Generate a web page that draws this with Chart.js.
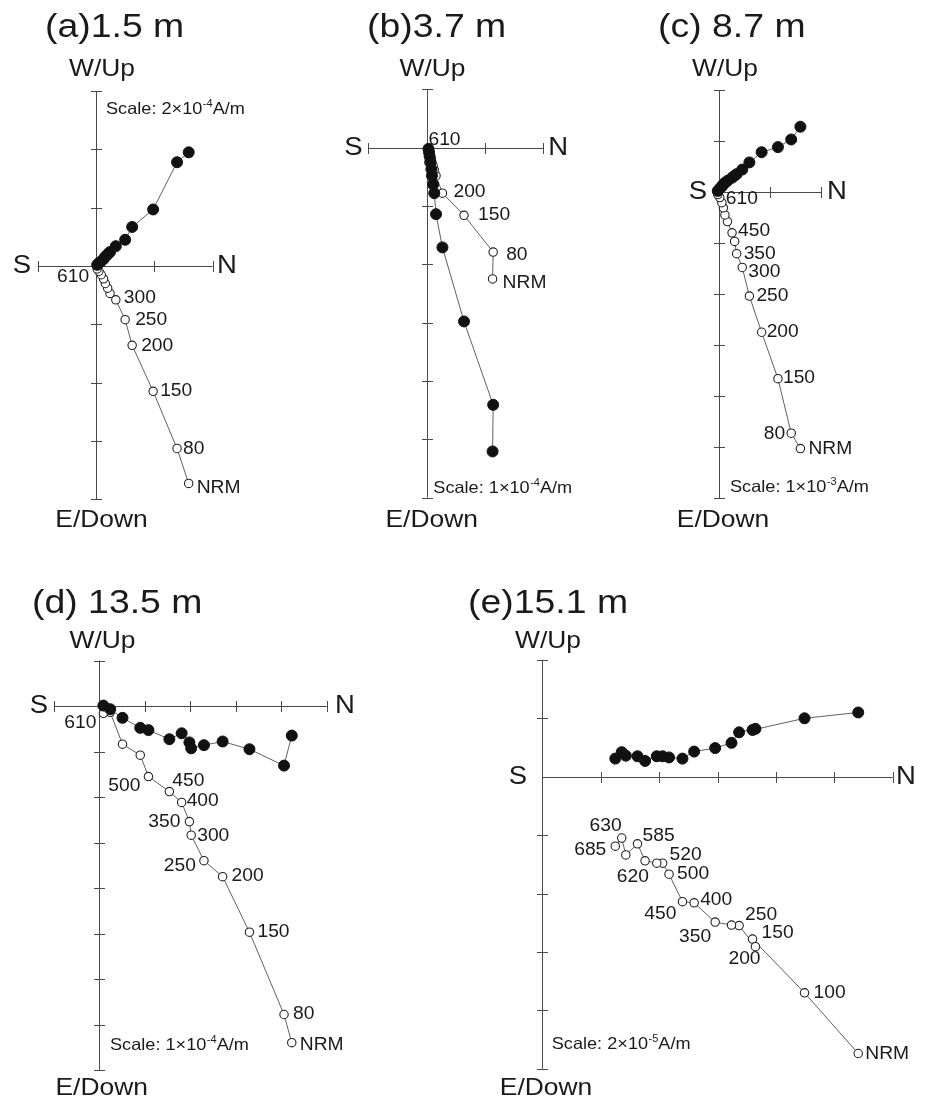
<!DOCTYPE html>
<html>
<head>
<meta charset="utf-8">
<script src="https://cdn.jsdelivr.net/npm/chart.js@4.4.1/dist/chart.umd.min.js"></script>
<style>
  body { margin: 0; background: #fff; }
  #wrap { position: relative; width: 932px; height: 1100px; }
  #wrap canvas { position: absolute; left: 0; top: 0; }
</style>
</head>
<body>
<div id="wrap">
  <canvas id="pa" width="932" height="1100"></canvas>
  <canvas id="pb" width="932" height="1100"></canvas>
  <canvas id="pc" width="932" height="1100"></canvas>
  <canvas id="pd" width="932" height="1100"></canvas>
  <canvas id="pe" width="932" height="1100"></canvas>
</div>
<script>
"use strict"

// DATA (units of the scale bar, N component shared by both projections)
// (a) 1.5 m
const aSteps = ['NRM', '80', '150', '200', '250', '300', '350', '400', '450', '500', '540', '580', '610'];
const aNorth = [1.59, 1.39, 0.98, 0.62, 0.50, 0.34, 0.24, 0.20, 0.16, 0.13, 0.09, 0.05, 0.02];
const aWest = [1.95, 1.78, 0.97, 0.67, 0.45, 0.34, 0.24, 0.20, 0.16, 0.12, 0.08, 0.05, 0.02];
const aUp = [-3.73, -3.13, -2.15, -1.36, -0.92, -0.58, -0.47, -0.38, -0.30, -0.22, -0.15, -0.09, -0.05];

// (b) 3.7 m
const bSteps = ['NRM', '80', '150', '200', '250', '300', '350', '400', '450', '500', '540', '580', '610'];
const bNorth = [1.13, 1.14, 0.64, 0.27, 0.16, 0.13, 0.11, 0.09, 0.08, 0.06, 0.05, 0.04, 0.03];
const bWest = [-5.21, -4.41, -2.98, -1.71, -1.14, -0.78, -0.63, -0.48, -0.37, -0.25, -0.15, -0.08, -0.02];
const bUp = [-2.25, -1.79, -1.16, -0.78, -0.48, -0.38, -0.31, -0.25, -0.19, -0.13, -0.09, -0.05, -0.02];

// (c) 8.7 m
const cSteps = ['NRM', '80', '150', '200', '250', '300', '350', '400', '450', '480', '510', '540', '570', '590', '610'];
const cNorth = [1.59, 1.41, 1.15, 0.83, 0.59, 0.45, 0.34, 0.30, 0.25, 0.16, 0.11, 0.08, 0.05, 0.01, -0.03];
const cWest = [1.28, 1.03, 0.88, 0.78, 0.58, 0.44, 0.35, 0.32, 0.28, 0.22, 0.18, 0.15, 0.11, 0.07, 0.02];
const cUp = [-5.03, -4.73, -3.66, -2.75, -2.04, -1.48, -1.21, -0.97, -0.80, -0.58, -0.45, -0.31, -0.21, -0.11, -0.05];

// (d) 13.5 m
const dSteps = ['NRM', '80', '150', '200', '250', '300', '350', '400', '450', '500', '530', '560', '580', '610'];
const dNorth = [4.23, 4.06, 3.30, 2.71, 2.30, 2.02, 1.98, 1.81, 1.54, 1.08, 0.90, 0.51, 0.24, 0.09];
const dWest = [-0.65, -1.31, -0.95, -0.78, -0.86, -0.93, -0.80, -0.60, -0.73, -0.53, -0.48, -0.26, -0.07, 0.01];
const dUp = [-7.40, -6.78, -4.97, -3.75, -3.40, -2.84, -2.54, -2.12, -1.88, -1.55, -1.08, -0.84, -0.14, -0.16];

// (e) 15.1 m
const eSteps = ['NRM', '100', '150', '200', '250', '300', '350', '400', '450', '500', '520', '540', '560', '585', '620', '630', '685'];
const eNorth = [5.41, 4.49, 3.60, 3.65, 3.37, 3.24, 2.96, 2.60, 2.40, 2.17, 2.06, 1.96, 1.76, 1.63, 1.43, 1.36, 1.25];
const eWest = [1.10, 1.00, 0.80, 0.82, 0.76, 0.58, 0.49, 0.43, 0.31, 0.33, 0.35, 0.35, 0.27, 0.35, 0.36, 0.42, 0.31];
const eUp = [-4.74, -3.70, -2.78, -2.91, -2.55, -2.54, -2.49, -2.16, -2.14, -1.67, -1.48, -1.48, -1.44, -1.15, -1.34, -1.05, -1.19];

// STYLE
const FONT = '"Liberation Sans", Arial, sans-serif';
const STRETCH = 1.1;      // the original lettering is a little wide
const INK = '#1a1a1a';
const AXIS_COLOR = '#4a4a4a';
const LINE_COLOR = '#606060';
const TICK = 5.5;

// LAYOUT OF EACH PANEL (pixel boxes of the axes, text anchors, label offsets)
const panels = [
    {
        id: 'pa', title: '(a)1.5 m', mant: '2', expo: '-4',
        steps: aSteps, north: aNorth, west: aWest, up: aUp,
        xRange: [-1, 2], yRange: [-4, 3], box: [37.7, 91.1, 212.6, 499.2],
        titleAt: [45, 37], upAt: [102, 76], downAt: [101.5, 527], sAt: [22, 266], nAt: [227, 266], scaleAt: [106, 109],
        labels: { 'NRM': [8, 5, 'left'], '80': [6, 1, 'left'], '150': [7, 0, 'left'], '200': [9, 1, 'left'],
                  '250': [10, 1, 'left'], '300': [8, -2, 'left'], '610': [-8, 8, 'right'] }
    },
    {
        id: 'pb', title: '(b)3.7 m', mant: '1', expo: '-4',
        steps: bSteps, north: bNorth, west: bWest, up: bUp,
        xRange: [-1, 2], yRange: [-6, 1], box: [368.4, 89.4, 543.3, 497.5],
        titleAt: [367, 37], upAt: [432.5, 76], downAt: [431.7, 527], sAt: [353.3, 147.7], nAt: [558.3, 147.7], scaleAt: [433.3, 488.5],
        labels: { 'NRM': [10, 4, 'left'], '80': [13, 3, 'left'], '150': [14, 0, 'left'], '200': [11, -1, 'left'],
                  '610': [0, -9, 'left'] }
    },
    {
        id: 'pc', title: '(c) 8.7 m', mant: '1', expo: '-3',
        steps: cSteps, north: cNorth, west: cWest, up: cUp,
        xRange: [0, 2], yRange: [-6, 2], box: [719.3, 90, 821.3, 498],
        titleAt: [658, 37], upAt: [725, 76], downAt: [723, 527], sAt: [698, 192], nAt: [837, 192], scaleAt: [730, 487],
        labels: { 'NRM': [8, 1, 'left'], '80': [-6, 1, 'right'], '150': [5, 0, 'left'], '200': [5, 0, 'left'],
                  '250': [7, 0, 'left'], '300': [6, 5, 'left'], '350': [7, 0, 'left'], '450': [6, -2, 'left'],
                  '610': [8, 5, 'left'] }
    },
    {
        id: 'pd', title: '(d) 13.5 m', mant: '1', expo: '-4',
        steps: dSteps, north: dNorth, west: dWest, up: dUp,
        xRange: [-1, 5], yRange: [-8, 1], box: [53.8, 660.5, 326.8, 1070],
        titleAt: [32, 613], upAt: [102.5, 648], downAt: [101.7, 1095], sAt: [39, 706], nAt: [345, 706], scaleAt: [110, 1045],
        labels: { 'NRM': [8, 2, 'left'], '80': [9, 0, 'left'], '150': [8, 0, 'left'], '200': [9, 0, 'left'],
                  '250': [-8, 5, 'right'], '300': [6, 1, 'left'], '350': [-9, 1, 'right'], '400': [5, -1, 'left'],
                  '450': [3, -10, 'left'], '500': [-8, 10, 'right'], '610': [-7, 10, 'right'] }
    },
    {
        id: 'pe', title: '(e)15.1 m', mant: '2', expo: '-5',
        steps: eSteps, north: eNorth, west: eWest, up: eUp,
        xRange: [0, 6], yRange: [-5, 2], box: [542.3, 659.9, 892.7, 1068.7],
        titleAt: [468, 613], upAt: [548, 648], downAt: [546, 1095], sAt: [518, 776.7], nAt: [906, 776.7], scaleAt: [551.7, 1044],
        labels: { 'NRM': [7, 1, 'left'], '100': [9, 0, 'left'], '150': [9, -6, 'left'], '200': [-27, 13, 'left'],
                  '250': [6, -10, 'left'], '350': [-4, 15, 'right'], '400': [6, -3, 'left'], '450': [-6, 12, 'right'],
                  '500': [8, 0, 'left'], '520': [7, -8, 'left'], '585': [5, -8, 'left'], '620': [-9, 22, 'left'],
                  '630': [0, -12, 'right'], '685': [-9, 4, 'right'] }
    }
];

// draw text a bit wider than the font, like the original figure
function txt(ctx, s, x, y, size, align, base) {
    ctx.save();
    ctx.font = size + 'px ' + FONT;
    ctx.textBaseline = base || 'middle';
    ctx.textAlign = 'left';
    ctx.fillStyle = INK;
    const w = ctx.measureText(s).width * STRETCH;
    let x0 = x;
    if (align === 'right') x0 = x - w;
    if (align === 'center') x0 = x - w / 2;
    ctx.translate(x0, y);
    ctx.scale(STRETCH, 1);
    ctx.fillText(s, 0, 0);
    ctx.restore();
    return w;
}

function crisp(v) {
    return Math.round(v) + 0.5;
}

function zijPlugin(p) {
    return {
        id: 'zij',
        beforeDatasetsDraw(chart) {
            const ctx = chart.ctx, xs = chart.scales.x, ys = chart.scales.y;
            const x0 = crisp(xs.getPixelForValue(0)), y0 = crisp(ys.getPixelForValue(0));
            ctx.save();
            ctx.strokeStyle = AXIS_COLOR;
            ctx.lineWidth = 1;
            ctx.beginPath();
            ctx.moveTo(xs.getPixelForValue(p.xRange[0]), y0);
            ctx.lineTo(xs.getPixelForValue(p.xRange[1]), y0);
            ctx.moveTo(x0, ys.getPixelForValue(p.yRange[1]));
            ctx.lineTo(x0, ys.getPixelForValue(p.yRange[0]));
            for (let v = p.xRange[0]; v <= p.xRange[1]; v++) {
                if (v === 0) continue;
                const px = crisp(xs.getPixelForValue(v));
                ctx.moveTo(px, y0 - TICK);
                ctx.lineTo(px, y0 + TICK);
            }
            for (let v = p.yRange[0]; v <= p.yRange[1]; v++) {
                if (v === 0) continue;
                const py = crisp(ys.getPixelForValue(v));
                ctx.moveTo(x0 - TICK, py);
                ctx.lineTo(x0 + TICK, py);
            }
            ctx.stroke();
            ctx.restore();
        },
        afterDraw(chart) {
            const ctx = chart.ctx, xs = chart.scales.x, ys = chart.scales.y;
            // titles and axis names
            txt(ctx, p.title, p.titleAt[0], p.titleAt[1], 34, 'left', 'alphabetic');
            txt(ctx, 'W/Up', p.upAt[0], p.upAt[1], 24, 'center', 'alphabetic');
            txt(ctx, 'E/Down', p.downAt[0], p.downAt[1], 24, 'center', 'alphabetic');
            txt(ctx, 'S', p.sAt[0], p.sAt[1], 25, 'center', 'middle');
            txt(ctx, 'N', p.nAt[0], p.nAt[1], 25, 'center', 'middle');

            // scale text with the exponent raised
            let x = p.scaleAt[0];
            const y = p.scaleAt[1];
            x += txt(ctx, 'Scale: ' + p.mant + '\u00d710', x, y, 16.5, 'left', 'middle');
            x += txt(ctx, p.expo, x + 0.5, y - 5, 10, 'left', 'middle') + 0.5;
            txt(ctx, 'A/m', x, y, 16.5, 'left', 'middle');

            // step labels next to the open circles
            p.steps.forEach((s, i) => {
                const pos = p.labels[s];
                if (!pos) return;
                const px = xs.getPixelForValue(p.north[i]);
                const py = ys.getPixelForValue(p.up[i]);
                txt(ctx, s, px + pos[0], py + pos[1], 17.5, pos[2], 'middle');
            });
        }
    };
}

function makeChart(p) {
    const horiz = p.north.map((n, i) => ({ x: n, y: p.west[i] }));
    const vert = p.north.map((n, i) => ({ x: n, y: p.up[i] }));
    const config = {
        type: 'scatter',
        data: {
            datasets: [{
                label: 'horizontal',
                data: horiz,
                showLine: true,
                borderColor: LINE_COLOR,
                borderWidth: 1,
                pointRadius: 5.5,
                pointBackgroundColor: '#111',
                pointBorderColor: '#111',
                pointBorderWidth: 1,
                clip: false
            }, {
                label: 'vertical',
                data: vert,
                showLine: true,
                borderColor: LINE_COLOR,
                borderWidth: 1,
                pointRadius: 4.2,
                pointBackgroundColor: '#fff',
                pointBorderColor: '#222',
                pointBorderWidth: 1.1,
                clip: false
            }]
        },
        options: {
            responsive: false,
            animation: false,
            events: [],
            layout: {
                padding: { left: p.box[0], top: p.box[1], right: 932 - p.box[2], bottom: 1100 - p.box[3] }
            },
            scales: {
                x: { type: 'linear', min: p.xRange[0], max: p.xRange[1], display: false },
                y: { type: 'linear', min: p.yRange[0], max: p.yRange[1], display: false }
            },
            plugins: {
                legend: { display: false },
                tooltip: { enabled: false }
            }
        },
        plugins: [zijPlugin(p)]
    };
    return new Chart(document.getElementById(p.id), config);
}

panels.forEach(makeChart);
</script>
</body>
</html>
